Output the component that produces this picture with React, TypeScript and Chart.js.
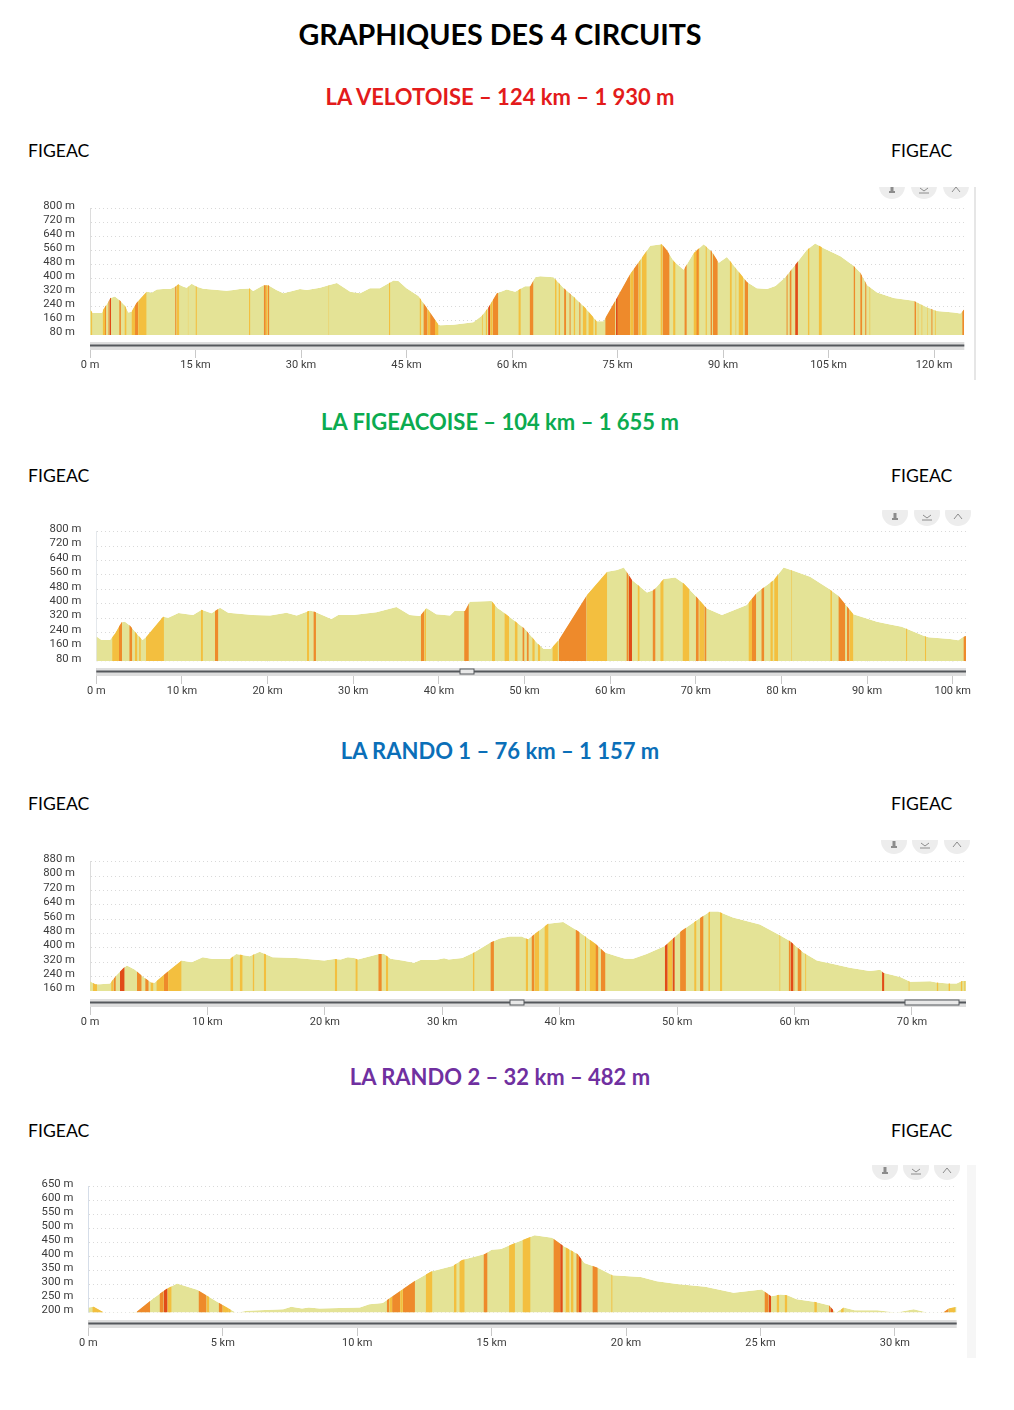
import React, { useEffect, useRef } from "react";
import { Chart, registerables } from "chart.js";

Chart.register(...registerables);

// ---------- La Velotoise ----------
const velotoiseKm = [0,.4,1.7,1.9,2.3,2.9,3.55,4.3,5,5.45,5.9,6.6,8.05,8.8,9.5,10.4,11.4,12.1,12.55,13.3,13.75,14.45,15.2,16.1,19.4,20.4,21.3,22.75,23.2,24.65,25.35,26.5,27.5,28.9,29.85,30.8,32.7,33.9,35.1,37,38.4,39.8,41.2,43.15,43.85,45,46.7,47.4,48.35,49.55,49.8,51.65,54.5,55.7,56.65,57.85,59.25,60.45,61.85,62.6,63.3,64,65.9,67.3,68.75,70.4,72.05,73,74.9,76.8,78.2,79.65,81.3,82,83,84.4,85.8,87.25,88.4,89.4,90.55,91.75,93.4,94.8,96.25,97.45,98.85,100.5,101.9,103.1,104.3,106.7,108.6,109.5,110.5,111.9,114.25,117.1,119,120.4,122.8,123.75,124.3];
const velotoiseElev = [227,205,205,227,250,291,300,276,245,208,212,263,327,322,340,342,342,355,369,355,349,373,355,344,333,336,342,345,331,364,364,336,318,333,342,336,349,364,377,327,318,346,346,391,388,346,303,263,208,139,135,139,153,190,239,318,340,327,358,358,410,415,410,349,300,236,159,159,291,428,507,589,598,565,501,452,547,598,556,492,525,465,382,346,342,360,410,492,565,602,575,529,474,437,364,322,291,276,239,217,208,203,227];
const velotoiseStripes = [[.15,.33,1],[1.8,2.3,1],[2.13,2.27,2],[2.6,2.75,2],[2.75,3,3],[4.15,4.4,2],[4.9,5.2,1],[5.9,6.4,1],[6.4,6.85,2],[6.85,8.05,1],[12.1,12.3,2],[12.3,12.7,1],[13.9,14,1],[15,15.2,1],[22.6,22.8,1],[24.7,25,2],[25,25.25,1],[25.25,25.5,2],[33.9,34,1],[42.5,42.7,1],[46.85,47.1,1],[47.4,48,2],[48,48.35,1],[48.35,49.05,2],[49.05,49.55,1],[55.7,55.85,1],[56.25,56.45,1],[56.6,56.9,3],[56.9,57.25,1],[57.25,58.05,2],[60.9,61.25,1],[62.5,63.05,2],[66.1,66.35,1],[66.6,66.85,1],[67.4,67.7,2],[68.15,68.35,2],[68.75,69,1],[69.55,69.75,2],[70.05,70.6,1],[70.85,71.6,1],[71.8,72.05,1],[73.25,74.65,2],[74.75,75.05,3],[75.05,76.8,2],[76.8,77.25,1],[77.25,78,2],[78,78.3,1],[78.45,79.15,1],[81.1,81.4,1],[81.4,82.4,2],[82.9,83.25,1],[84.5,84.85,2],[85.8,86.65,1],[86.2,86.55,2],[87.5,87.7,1],[88.2,88.45,2],[88.55,89.25,2],[90.95,91.25,1],[91.75,91.9,1],[92.2,92.9,1],[93.05,93.55,2],[99,99.2,2],[99.45,99.75,2],[100.25,100.65,3],[102.05,102.3,1],[103.6,104.05,1],[108.55,108.8,2],[109.5,109.8,2],[110.2,110.4,2],[110.8,110.95,1],[117.2,117.45,2],[117.65,117.8,1],[118.2,118.35,1],[119,119.1,1],[119.6,119.8,2],[120.1,120.25,1],[124,124.3,2]];

// ---------- La Figeacoise ----------
const figeacoiseKm = [0,.6,1.6,2.2,2.95,3.35,3.95,4.7,5.4,5.85,7.8,8.4,9.6,11.3,12.3,13.45,14.45,15.4,18.3,20.3,22.2,23.4,24.95,25.5,27.45,28.25,30,32.7,35.05,36.6,37.8,38.55,39.7,41.3,41.85,43.05,43.6,46.15,46.9,47.2,50,51.5,52.25,53.05,54,57.3,59.65,60.8,61.6,62.55,64.3,65.1,66.25,67.6,68.6,70.15,71.3,73.05,75.95,77.15,79.1,80.25,81.4,83.35,85.5,86.65,88.4,91.15,92.7,94.05,96.6,97.15,99.7,100.65,101.25,101.55];
const figeacoiseElev = [219,198,198,235,297,300,278,235,198,217,328,322,348,337,367,347,378,350,337,334,350,334,363,356,315,337,337,352,382,337,332,376,341,335,361,360,411,415,374,365,263,180,148,148,198,448,578,587,602,532,463,476,537,546,513,434,374,337,393,463,532,602,583,550,485,445,341,300,285,272,222,213,204,197,217,221];
const figeacoiseStripes = [[1.85,2.75,1],[2.65,3,2],[3.85,4.2,2],[4.5,4.8,1],[5,5.2,1],[5.8,7.9,1],[12.2,12.45,1],[13.85,14.25,2],[24.6,24.85,1],[25.35,25.65,2],[37.9,38.3,2],[38.3,38.5,1],[42.95,43.5,2],[46.2,46.55,1],[47.65,48.2,1],[48.85,49.2,1],[49.75,50,2],[50.25,50.5,2],[50.9,51.2,1],[51.55,51.85,1],[53.25,53.9,1],[54,57.25,2],[57.25,59.65,1],[61.9,62.15,2],[62.15,62.55,3],[63.2,63.45,1],[64.95,65.3,2],[65.85,66.25,1],[68.45,69.25,1],[70,70.35,2],[70.4,71,1],[71,71.25,2],[76.15,76.6,1],[76.55,77.05,2],[77.65,78,2],[78.7,79,1],[79.15,79.6,1],[81.15,81.25,1],[85.7,85.9,1],[86.65,87.45,2],[87.65,87.95,2],[87.95,88.4,1],[94.55,94.7,1],[96.75,96.9,1],[101.25,101.55,2]];

// ---------- La Rando 1 ----------
const rando1Km = [0,.45,.85,1.7,2.25,2.85,3.15,3.8,4.55,5.25,5.5,6.5,7.8,8.65,9.6,10.45,11.9,12.45,13.6,14.45,15.55,17.55,19.95,20.8,21.35,21.95,22.5,22.8,24.6,25.05,25.6,26.6,27.6,28.15,29.45,30.15,30.55,31.7,32.7,34.1,34.9,35.75,36.75,37.3,38,39,40.3,41.55,43.1,43.85,44.85,45.55,46.25,47.4,48.95,50.35,51.95,52.8,53.5,54.75,57.05,58.75,59.6,60.75,61.9,63.3,64.7,66.4,67.3,67.55,69,69.85,71.55,72.1,73.1,73.8,74.25,74.6];
const rando1Elev = [215,198,198,202,248,288,302,280,238,206,206,262,330,320,348,338,338,366,353,379,348,344,330,338,335,348,344,335,366,366,339,330,317,333,333,342,335,344,375,430,452,463,463,448,484,535,545,494,421,375,353,339,339,366,411,494,567,603,603,570,530,470,439,375,330,311,289,271,278,262,238,211,215,207,202,202,216,216];
const rando1Stripes = [[.25,.6,1],[1.8,2,1],[2,2.2,2],[2.55,2.95,3],[4,4.4,2],[4.7,5,2],[5.15,5.4,1],[5.65,6.3,1],[6.3,6.65,2],[6.65,7.8,1],[11.95,12.2,1],[12.75,13,1],[13.85,14,1],[14.8,15,1],[20.85,21.05,1],[22.6,22.8,1],[24.55,24.85,2],[25.2,25.4,1],[32.6,32.75,1],[34.1,34.4,2],[37.1,37.3,1],[37.6,37.85,2],[37.85,38.25,1],[38.7,39.05,1],[41.35,41.7,2],[42.15,42.25,1],[42.55,43.1,1],[43.05,43.3,2],[43.5,43.9,2],[48.95,49.2,3],[49.2,49.6,1],[49.6,49.8,3],[50.25,50.75,2],[51.45,51.65,1],[51.95,52.25,2],[52.65,52.8,1],[53.65,53.85,1],[58.7,58.8,1],[59.5,59.65,2],[59.65,59.9,3],[59.9,60,2],[60.25,60.6,2],[60.9,61,1],[67.45,67.65,3],[69.7,69.8,1],[72.1,72.25,1],[73.1,73.25,1],[74.15,74.3,1],[74.45,74.55,1]];

// ---------- La Rando 2 ----------
const rando2Km = [0,.2,.6,.87,1.8,2.25,2.4,2.9,3.3,4.05,4.9,5.5,5.9,7.25,7.55,7.95,8.2,8.6,10.1,10.45,10.95,11.45,12.15,12.75,13.55,13.9,14.75,15,15.35,15.85,16.6,17.25,17.7,18.2,18.45,18.95,19.5,20.55,21.15,21.9,22.95,24,25.05,25.4,25.75,26,26.35,27.05,27.55,27.8,28.1,28.5,29.35,30.05,30.7,31.25,31.7,32,32.3];
const rando2Elev = [219,221,200,195,203,238,250,285,304,282,233,200,207,212,221,215,219,215,219,230,235,268,314,347,367,388,410,425,428,448,477,468,437,410,378,361,334,328,312,303,293,271,283,259,265,262,248,238,227,200,219,209,209,201,212,200,194,215,221];
const rando2Stripes = [[.15,.55,1],[1.8,2.3,2],[2.65,2.8,2],[2.8,2.95,3],[2.95,3.1,1],[4.1,4.4,2],[4.4,4.5,1],[4.85,5,2],[5,5.2,1],[5.2,5.3,1],[11.1,11.2,2],[11.2,11.3,1],[11.3,11.6,2],[11.6,11.7,1],[11.7,12.15,2],[12.55,12.8,1],[13.6,13.7,1],[13.8,14,1],[14.7,14.85,2],[15.65,15.87,1],[16.15,16.45,1],[17.3,17.55,2],[17.55,17.65,3],[17.75,17.9,1],[17.95,18.05,1],[18.15,18.25,2],[18.25,18.35,3],[18.75,18.95,2],[19.45,19.5,1],[25.15,25.3,2],[25.3,25.4,3],[25.6,25.7,1],[25.9,26,1],[27,27.1,1],[27.55,27.6,2],[27.6,27.7,3],[28,28.1,1],[31.7,32,2],[32,32.25,1]];

// ---------- Page texts ----------
const pageTitle = "GRAPHIQUES DES 4 CIRCUITS";
const circuitTitles = ["LA VELOTOISE – 124 km – 1 930 m", "LA FIGEACOISE – 104 km – 1 655 m", "LA RANDO 1 – 76 km – 1 157 m", "LA RANDO 2 – 32 km – 482 m"];
const townLabel = "FIGEAC";

const GRADE_COLORS = ["", "#f3bf3f", "#ee8a2b", "#e14b18"];
const PALE = "#e4e396";

type Panel = {
  km: number[]; elev: number[]; stripes: number[][];
  yMin: number; yMax: number; yStep: number; xMax: number; xStep: number;
  top: number; height: number; plotTop: number; plotBottom: number; plotLeft: number; plotRight: number;
  bandTop: number; icons: number[]; iconY: number; handles: number[][]; rule?: { x: number; w: number; color: string };
  titleY: number; titleColor: string; townY: number; axisColor: string;
};

const panels: Panel[] = [
  { km: velotoiseKm, elev: velotoiseElev, stripes: velotoiseStripes, yMin: 80, yMax: 800, yStep: 80, xMax: 124.3, xStep: 15,
    top: 187, height: 193, plotTop: 204, plotBottom: 335, plotLeft: 90, plotRight: 964.3, bandTop: 342,
    icons: [892, 924, 956], iconY: 186, handles: [], rule: { x: 974, w: 2, color: "#e6e6e6" },
    titleY: 97, titleColor: "#e31b1b", townY: 151, axisColor: "#dcdcdc" },
  { km: figeacoiseKm, elev: figeacoiseElev, stripes: figeacoiseStripes, yMin: 80, yMax: 800, yStep: 80, xMax: 101.55, xStep: 10,
    top: 510, height: 195, plotTop: 531.7, plotBottom: 661.3, plotLeft: 96.3, plotRight: 966, bandTop: 668,
    icons: [895, 927, 958], iconY: 513, handles: [[460, 474]],
    titleY: 422, titleColor: "#0bab50", townY: 476, axisColor: "#e4e8ec" },
  { km: rando1Km, elev: rando1Elev, stripes: rando1Stripes, yMin: 160, yMax: 880, yStep: 80, xMax: 74.6, xStep: 10,
    top: 840, height: 195, plotTop: 859.3, plotBottom: 991, plotLeft: 90, plotRight: 966, bandTop: 999,
    icons: [894, 925, 957], iconY: 841, handles: [[510, 524], [905, 959]],
    titleY: 751, titleColor: "#0b6fb8", townY: 804, axisColor: "#dcdcdc" },
  { km: rando2Km, elev: rando2Elev, stripes: rando2Stripes, yMin: 200, yMax: 650, yStep: 50, xMax: 32.3, xStep: 5,
    top: 1165, height: 193, plotTop: 1184, plotBottom: 1312.7, plotLeft: 88.3, plotRight: 956.7, bandTop: 1320,
    icons: [885, 916, 947], iconY: 1167, handles: [], rule: { x: 967, w: 9, color: "#f6f6f6" },
    titleY: 1077, titleColor: "#7030a0", townY: 1131, axisColor: "#d5dde8" },
];

const clipToProfile = {
  id: "clipToProfile",
  beforeDatasetsDraw(chart: any) {
    const pts = chart.getDatasetMeta(chart.data.datasets.length - 1).data;
    const b = chart.chartArea.bottom;
    const ctx = chart.ctx;
    ctx.save();
    ctx.beginPath();
    ctx.moveTo(pts[0].x, b);
    pts.forEach((p: any) => ctx.lineTo(p.x, p.y));
    ctx.lineTo(pts[pts.length - 1].x, b);
    ctx.closePath();
    ctx.clip();
  },
  afterDatasetsDraw(chart: any) {
    chart.ctx.restore();
  },
};

function makeDecor(p: Panel) {
  return {
    id: "decor",
    afterDraw(chart: any) {
      const ctx = chart.ctx;
      const { left, right, bottom } = chart.chartArea;
      const top = (y: number) => y - p.top;
      ctx.save();
      // hide the upper part of the long tick marks: the range slider sits between plot and labels
      ctx.fillStyle = "#fff";
      ctx.fillRect(left - 2, bottom, right - left + 4, top(p.bandTop) - bottom);
      ctx.fillStyle = "#dedede";
      ctx.fillRect(left, top(p.bandTop), right - left, 8);
      ctx.fillStyle = "#55585c";
      ctx.fillRect(left, top(p.bandTop) + 2.5, right - left, 2);
      p.handles.forEach(([a, b]) => {
        ctx.fillStyle = "#e8e8e8";
        ctx.fillRect(a, top(p.bandTop) + 1, b - a, 5);
        ctx.strokeStyle = "#55585c";
        ctx.lineWidth = 1;
        ctx.strokeRect(a, top(p.bandTop) + 1, b - a, 5);
      });
      p.icons.forEach((x, i) => {
        const cy = top(p.iconY);
        ctx.fillStyle = "#ededed";
        ctx.beginPath();
        ctx.arc(x, cy, 13, 0, Math.PI * 2);
        ctx.fill();
        ctx.fillStyle = "#8c8c8c";
        ctx.strokeStyle = "#8c8c8c";
        ctx.lineWidth = 1;
        if (i === 0) {
          ctx.fillRect(x - 1.5, cy, 3, 5);
          ctx.fillRect(x - 3, cy + 5, 6, 2);
        } else {
          ctx.beginPath();
          if (i === 1) {
            ctx.moveTo(x - 4, cy + 2);
            ctx.lineTo(x, cy + 5);
            ctx.lineTo(x + 4, cy + 2);
            ctx.moveTo(x - 5, cy + 7);
            ctx.lineTo(x + 5, cy + 7);
          } else {
            ctx.moveTo(x - 4, cy + 6);
            ctx.lineTo(x, cy + 1);
            ctx.lineTo(x + 4, cy + 6);
          }
          ctx.stroke();
        }
      });
      if (p.rule) {
        ctx.fillStyle = p.rule.color;
        ctx.fillRect(p.rule.x, 0, p.rule.w, p.height);
      }
      ctx.restore();
    },
  };
}

function gradeData(stripes: number[][], grade: number, yTop: number) {
  const out: { x: number; y: number | null }[] = [];
  stripes.filter((s) => s[2] === grade).forEach(([from, to]) => {
    out.push({ x: from, y: yTop }, { x: to, y: yTop }, { x: to, y: null });
  });
  return out;
}

function ProfileChart({ panel }: { panel: Panel }) {
  const ref = useRef<HTMLCanvasElement>(null);
  useEffect(() => {
    const p = panel;
    const band = (grade: number, order: number) => ({
      data: gradeData(p.stripes, grade, p.yMax),
      fill: "origin",
      backgroundColor: GRADE_COLORS[grade],
      borderWidth: 0,
      borderColor: "transparent",
      pointRadius: 0,
      spanGaps: false,
      order,
    });
    const chart = new Chart(ref.current as HTMLCanvasElement, {
      type: "line",
      data: {
        datasets: [
          band(3, 1),
          band(2, 2),
          band(1, 3),
          {
            data: p.km.map((x, i) => ({ x, y: p.elev[i] })),
            fill: "origin",
            backgroundColor: PALE,
            borderWidth: 0,
            borderColor: "transparent",
            pointRadius: 0,
            order: 4,
          },
        ],
      },
      options: {
        animation: false,
        responsive: false,
        devicePixelRatio: 1,
        events: [],
        layout: { padding: { top: p.plotTop - p.top, right: 1014 - p.plotRight, left: 0, bottom: 0 } },
        plugins: { legend: { display: false }, tooltip: { enabled: false } },
        scales: {
          x: {
            type: "linear",
            min: 0,
            max: p.xMax,
            afterFit: (a: any) => { a.height = p.top + p.height - p.plotBottom; },
            border: { display: false },
            grid: { drawOnChartArea: false, drawTicks: true, tickLength: p.bandTop + 16 - p.plotBottom, color: "#c9c9c9" },
            ticks: {
              stepSize: p.xStep,
              includeBounds: false,
              autoSkip: false,
              maxRotation: 0,
              padding: 1,
              color: "#3c3c3c",
              font: { family: "Roboto", size: 11 },
              callback: (v: any) => (v === 0 ? "0 m" : `${v} km`),
            },
          },
          y: {
            type: "linear",
            min: p.yMin,
            max: p.yMax,
            afterFit: (a: any) => { a.width = p.plotLeft; },
            border: { display: true, color: p.axisColor, width: 1, dash: [1, 3] },
            grid: { drawTicks: false, color: "#d9d9d9", lineWidth: 1 },
            ticks: {
              stepSize: p.yStep,
              autoSkip: false,
              padding: 15,
              labelOffset: -2.5,
              color: "#3c3c3c",
              font: { family: "Roboto", size: 11.3 },
              callback: (v: any) => `${v} m`,
            },
          },
        },
      } as any,
      plugins: [clipToProfile, makeDecor(p)],
    } as any);
    return () => chart.destroy();
  }, [panel]);
  return (
    <canvas
      ref={ref}
      width={1014}
      height={panel.height}
      style={{ position: "absolute", left: 0, top: panel.top, width: 1014, height: panel.height }}
    />
  );
}

function Label({ y, size, color, bold, x, children }: any) {
  const base: any = {
    position: "absolute",
    top: y - 20,
    height: 40,
    lineHeight: "40px",
    fontFamily: "Lato, sans-serif",
    fontSize: size,
    fontWeight: bold ? 700 : 400,
    color,
    whiteSpace: "nowrap",
  };
  if (x === undefined) {
    base.left = 0;
    base.width = 1000;
    base.textAlign = "center";
  } else {
    base.left = x;
  }
  return <div style={base}>{children}</div>;
}

export default function App() {
  return (
    <div style={{ position: "absolute", left: 0, top: 0, width: 1014, height: 1410, background: "#fff", overflow: "hidden" }}>
      <Label y={34} size={28.7} color="#000" bold>{pageTitle}</Label>
      {panels.map((p, i) => (
        <React.Fragment key={i}>
          <Label y={p.titleY} size={22} color={p.titleColor} bold>{circuitTitles[i]}</Label>
          <Label y={p.townY} size={17.6} color="#000" x={28}>{townLabel}</Label>
          <Label y={p.townY} size={17.6} color="#000" x={891}>{townLabel}</Label>
          <ProfileChart panel={p} />
        </React.Fragment>
      ))}
    </div>
  );
}
